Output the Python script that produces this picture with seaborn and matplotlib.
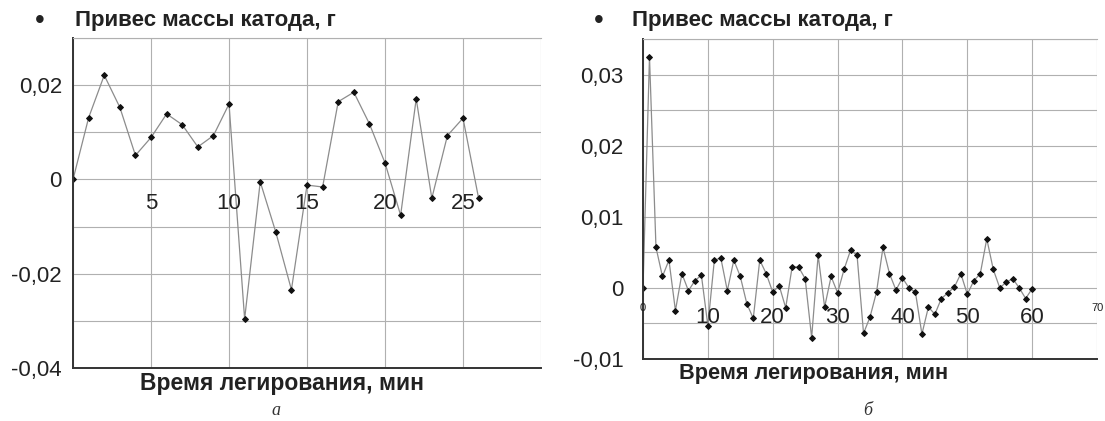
import numpy as np
import matplotlib
matplotlib.use('Agg')
import matplotlib.pyplot as plt
import seaborn as sns

# Data
# panel a: привес массы катода по минутам (0..26 мин)
time_a = list(range(0, 27))
mass_a = [0.0, 0.0131, 0.0221, 0.0153, 0.0051, 0.0089, 0.0139, 0.0116, 0.0069, 0.0093,
          0.0160, -0.0296, -0.0005, -0.0112, -0.0234, -0.0012, -0.0016, 0.0165, 0.0185, 0.0118,
          0.0035, -0.0076, 0.0171, -0.0040, 0.0093, 0.0130, -0.0040]

# panel b: 0..60 мин
time_b = list(range(0, 61))
mass_b = [0.0, 0.0325, 0.0057, 0.0016, 0.0039, -0.0032, 0.0020, -0.0004, 0.0010, 0.0018,
          -0.0053, 0.0039, 0.0042, -0.0004, 0.0039, 0.0016, -0.0022, -0.0043, 0.0039, 0.0020,
          -0.0006, 0.0003, -0.0028, 0.0030, 0.0029, 0.0013, -0.0070, 0.0046, -0.0027, 0.0016,
          -0.0007, 0.0026, 0.0053, 0.0046, -0.0064, -0.0041, -0.0006, 0.0057, 0.0020, -0.0003,
          0.0014, 0.0000, -0.0006, -0.0065, -0.0027, -0.0037, -0.0015, -0.0007, 0.0001, 0.0020,
          -0.0009, 0.0010, 0.0020, 0.0069, 0.0026, 0.0000, 0.0008, 0.0013, 0.0000, -0.0015,
          -0.0001]

# tick labels
xticks_a = [5, 10, 15, 20, 25]
yticks_a = [-0.04, -0.02, 0.0, 0.02]
ylabels_a = ['-0,04', '-0,02', '0', '0,02']
xticks_b = [10, 20, 30, 40, 50, 60]
xticks_b_small = [0, 70]
yticks_b = [-0.01, 0.0, 0.01, 0.02, 0.03]
ylabels_b = ['-0,01', '0', '0,01', '0,02', '0,03']

title = 'Привес массы катода, г'
xlabel = 'Время легирования, мин'

sns.set_style('white')
plt.rcParams['font.family'] = ['Liberation Sans', 'DejaVu Sans']

fig = plt.figure(figsize=(11.05, 4.21), dpi=100)
ax_a = fig.add_axes([0.0661, 0.1259, 0.4235, 0.7838])
ax_b = fig.add_axes([0.5819, 0.1473, 0.4109, 0.7601])

line_kw = dict(color='#8c8c8c', lw=0.9, marker='D', markersize=3.0,
               markerfacecolor='#111111', markeredgecolor='#111111')

sns.lineplot(x=time_a, y=mass_a, ax=ax_a, **line_kw)
sns.lineplot(x=time_b, y=mass_b, ax=ax_b, **line_kw)

# panel a axes
ax_a.set_xlim(0, 30)
ax_a.set_ylim(-0.04, 0.03)
ax_a.set_xticks(np.arange(0, 31, 5))
ax_a.set_xticklabels([])
ax_a.set_yticks(yticks_a)
ax_a.set_yticklabels(ylabels_a)
ax_a.set_yticks(np.arange(-0.04, 0.031, 0.01), minor=True)
ax_a.tick_params(axis='y', pad=8)
for t in xticks_a:
    ax_a.annotate(str(t), (t, 0), xytext=(0, -10), textcoords='offset points',
                  ha='center', va='top', fontsize=16, color='#222222')

# panel b axes
ax_b.set_xlim(0, 70)
ax_b.set_ylim(-0.01, 0.035)
ax_b.set_xticks(np.arange(0, 71, 10))
ax_b.set_xticklabels([])
ax_b.set_yticks(yticks_b)
ax_b.set_yticklabels(ylabels_b)
ax_b.set_yticks(np.arange(-0.01, 0.0351, 0.005), minor=True)
ax_b.tick_params(axis='y', pad=14)
for t in xticks_b:
    ax_b.annotate(str(t), (t, 0), xytext=(0, -14), textcoords='offset points',
                  ha='center', va='top', fontsize=16, color='#222222')
for t in xticks_b_small:
    ax_b.annotate(str(t), (t, 0), xytext=(0, -11), textcoords='offset points',
                  ha='center', va='top', fontsize=8, color='#222222')

for ax in (ax_a, ax_b):
    ax.set_xlabel('')
    ax.set_ylabel('')
    ax.grid(True, which='both', color='#b0b0b0', lw=0.8)
    ax.tick_params(which='both', length=0, labelsize=16, colors='#222222')
    ax.spines['left'].set_color('#333333')
    ax.spines['bottom'].set_color('#333333')
    ax.spines['left'].set_linewidth(1.4)
    ax.spines['bottom'].set_linewidth(1.4)
    ax.spines['top'].set_color('#b0b0b0')
    ax.spines['top'].set_linewidth(0.8)
    ax.spines['right'].set_visible(False)
    ax.set_axisbelow(True)

# legend-like titles
fig.text(0.036, 0.950, '•', ha='center', va='center', fontsize=20, color='#222222')
fig.text(0.068, 0.952, title, ha='left', va='center', fontsize=16,
         fontweight='bold', color='#222222')
fig.text(0.542, 0.950, '•', ha='center', va='center', fontsize=20, color='#222222')
fig.text(0.572, 0.952, title, ha='left', va='center', fontsize=16,
         fontweight='bold', color='#222222')

# axis titles
fig.text(0.255, 0.090, xlabel, ha='center', va='center', fontsize=16.5,
         fontweight='bold', color='#222222')
fig.text(0.736, 0.112, xlabel, ha='center', va='center', fontsize=15.7,
         fontweight='bold', color='#222222')

# captions
fig.text(0.25, 0.026, 'а', ha='center', va='center', fontsize=13, style='italic',
         family=['Liberation Serif', 'DejaVu Serif'], color='#333333')
fig.text(0.785, 0.026, 'б', ha='center', va='center', fontsize=13, style='italic',
         family=['Liberation Serif', 'DejaVu Serif'], color='#333333')

fig.savefig('out.png', dpi=100)
